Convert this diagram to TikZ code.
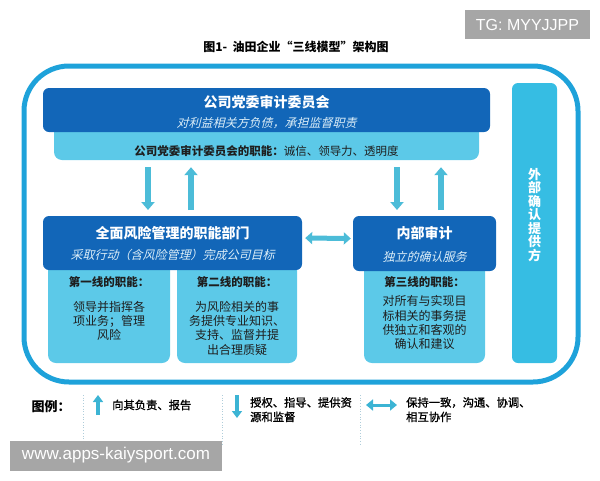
\documentclass[tikz,border=0pt]{standalone}
\usepackage{fontspec}
\setmainfont{Noto Sans CJK SC}
\newfontfamily\slantfont{Noto Sans CJK SC}[FakeSlant=0.25]
\newfontfamily\legfont{Noto Sans CJK SC}[FakeBold=1.2]
\newfontfamily\wmfont{Liberation Sans}
\usetikzlibrary{arrows.meta,calc}
\definecolor{outerc}{RGB}{30,162,218}
\definecolor{dblue}{RGB}{18,102,184}
\definecolor{lblue}{RGB}{92,201,232}
\definecolor{rboxc}{RGB}{54,189,227}
\definecolor{arrc}{RGB}{76,188,216}
\definecolor{larrc}{RGB}{60,180,212}
\definecolor{subw}{RGB}{220,238,248}
\definecolor{txt}{RGB}{30,30,30}
\definecolor{wmg}{RGB}{166,166,166}
\definecolor{sepc}{RGB}{175,205,218}
\begin{document}
\begin{tikzpicture}[x=1pt,y=-1pt,
  dbox/.style={rounded corners=6pt, fill=dblue, inner sep=0pt},
  lbox/.style={rounded corners=8pt, fill=lblue, inner sep=0pt},
  ttl/.style={font=\bfseries\fontsize{14}{16}\selectfont, text=white, inner sep=0pt},
  sub/.style={font=\slantfont\fontsize{12}{14}\selectfont, text=subw, inner sep=0pt},
  hd/.style={font=\bfseries\fontsize{11.5}{14}\selectfont, text=txt, inner sep=0pt},
  body/.style={font=\fontsize{12}{14.3}\selectfont, align=center, text=txt, inner sep=0pt, anchor=north},
  arr/.style={draw=arrc, line width=6pt, -{Triangle[width=13pt,length=8pt]}},
  darr/.style={draw=arrc, line width=5pt, {Triangle[width=12pt,length=7pt]}-{Triangle[width=12pt,length=7pt]}},
  larr/.style={draw=larrc, line width=3.5pt, -{Triangle[width=10pt,length=7pt]}},
  ldarr/.style={draw=larrc, line width=3pt, {Triangle[width=11pt,length=7pt]}-{Triangle[width=11pt,length=7pt]}},
  leg/.style={font=\legfont\fontsize{11.3}{14.5}\selectfont, text=black, inner sep=0pt, align=left},
  sep/.style={draw=sepc, dotted, line width=0.7pt},
  wm/.style={fill=wmg, text=white, inner sep=0pt}
]
\useasboundingbox (0,0) rectangle (600,480);

% title
\node[font=\bfseries\fontsize{12}{14}\selectfont, inner sep=0pt] (title) at (296,47) {图1-\ \ 油田企业“三线模型”架构图};

% outer frame
\node[draw=outerc, line width=5pt, rounded corners=45pt, minimum width=554pt, minimum height=316pt, inner sep=0pt] (frame) at (301,224) {};

% top boxes
\node[lbox, minimum width=425pt, minimum height=40pt] (topl) at (266.5,140) {};
\node[dbox, minimum width=447pt, minimum height=44pt] (topd) at (266.5,110) {};
\node[ttl] (topt) at (266.5,102) {公司党委审计委员会};
\node[sub] (tops) at (266.5,123) {对利益相关方负债，承担监督职责};
\node[font=\fontsize{11.5}{14}\selectfont, text=txt, inner sep=0pt] (topf) at (266.5,151) {\textbf{公司党委审计委员会的职能：}诚信、领导力、透明度};

% right vertical box
\node[rounded corners=6pt, fill=rboxc, minimum width=45pt, minimum height=280pt, inner sep=0pt] (ext) at (534.5,223) {};
\node[font=\bfseries\fontsize{13}{13.5}\selectfont, text=white, align=center, inner sep=0pt] (extt) at (534.5,215) {外\\部\\确\\认\\提\\供\\方};

% middle left
\node[lbox, minimum width=122pt, minimum height=103pt] (l1) at (109,311.5) {};
\node[lbox, minimum width=120pt, minimum height=103pt] (l2) at (237,311.5) {};
\node[dbox, minimum width=259pt, minimum height=54pt] (mid1) at (172.5,243) {};
\node[ttl] (mid1t) at (172.5,233) {全面风险管理的职能部门};
\node[sub] (mid1s) at (172.5,255) {采取行动（含风险管理）完成公司目标};
\node[hd] (h1) at (109,282) {第一线的职能：};
\node[body] (b1) at (109,301) {领导并指挥各\\项业务；管理\\风险};
\node[hd] (h2) at (237,282) {第二线的职能：};
\node[body] (b2) at (237,301) {为风险相关的事\\务提供专业知识、\\支持、监督并提\\出合理质疑};

% middle right
\node[lbox, minimum width=121pt, minimum height=103pt] (l3) at (424.5,311.5) {};
\node[dbox, minimum width=143pt, minimum height=55pt] (mid3) at (424.5,243.5) {};
\node[ttl] (mid3t) at (424.5,233) {内部审计};
\node[sub] (mid3s) at (424.5,257) {独立的确认服务};
\node[hd] (h3) at (424.5,282) {第三线的职能：};
\node[body] (b3) at (424.5,295.5) {对所有与实现目\\标相关的事务提\\供独立和客观的\\确认和建议};

% vertical arrows
\coordinate (a1) at (148,216);
\coordinate (a2) at (191,216);
\coordinate (a3) at (397,216);
\coordinate (a4) at (441,216);
\draw[arr, shorten <=7pt, shorten >=6pt] (topl.south -| a1) -- (a1);
\draw[arr, shorten <=6pt, shorten >=7pt] (a2) -- (topl.south -| a2);
\draw[arr, shorten <=7pt, shorten >=6pt] (topl.south -| a3) -- (a3);
\draw[arr, shorten <=6pt, shorten >=7pt] (a4) -- (topl.south -| a4);

% horizontal double arrow
\draw[darr, shorten <=3pt, shorten >=2pt] ([yshift=5pt]mid1.east) -- ([yshift=5pt]mid3.west);

% legend
\node[font=\bfseries\fontsize{13}{14}\selectfont, inner sep=0pt] (lg) at (51,407) {图例：};
\draw[sep] (83,395) -- (83,445);
\draw[sep] (222,395) -- (222,445);
\draw[sep] (360,395) -- (360,445);
\coordinate (u1) at (98,415);
\coordinate (u2) at (98,395);
\draw[larr] (u1) -- (u2);
\node[leg, anchor=west] (lt1) at (112,405) {向其负责、报告};
\coordinate (d1) at (237,395);
\coordinate (d2) at (237,418);
\draw[larr] (d1) -- (d2);
\node[leg, anchor=north west] (lt2) at (250,397) {授权、指导、提供资\\源和监督};
\coordinate (h1a) at (366,405);
\coordinate (h1b) at (397,405);
\draw[ldarr] (h1a) -- (h1b);
\node[leg, anchor=north west] (lt3) at (406,397) {保持一致，沟通、协调、\\相互协作};

% watermarks
\node[wm, minimum width=125pt, minimum height=29pt, font=\wmfont\fontsize{16}{18}\selectfont] (wm1) at (527.5,24.5) {TG: MYYJJPP};
\node[wm, minimum width=212pt, minimum height=30pt, font=\wmfont\fontsize{17}{18}\selectfont] (wm2) at (116,455.5) {www.apps-kaiysport.com};
\end{tikzpicture}
\end{document}
